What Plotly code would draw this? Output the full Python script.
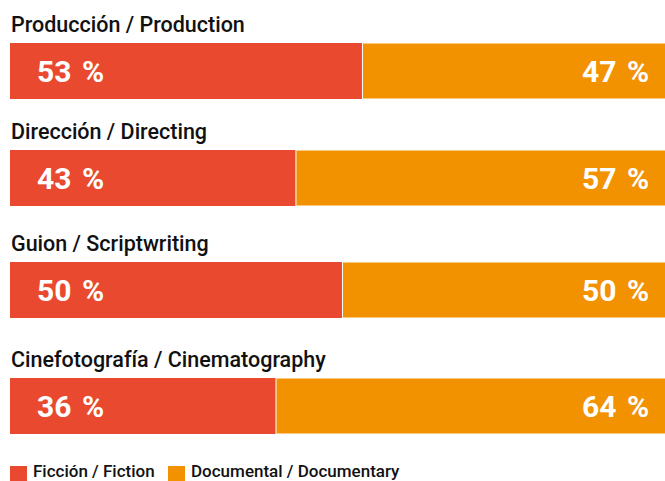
import plotly.graph_objects as go
from plotly.subplots import make_subplots

categories = ["Producción / Production", "Dirección / Directing",
              "Guion / Scriptwriting", "Cinefotografía / Cinematography"]
fiction_share = [53, 43, 50, 40]          # drawn bar lengths
documentary_share = [47, 57, 50, 60]
fiction_labels = [53, 43, 50, 36]         # printed labels
documentary_labels = [47, 57, 50, 64]
series_names = ["Ficción / Fiction", "Documental / Documentary"]

RED = "#E8492F"
ORANGE = "#F39200"
FONT = "Roboto, Noto Sans, sans-serif"

W, H = 665, 481
# bar pixel extents (top, bottom)
bar_px = [(43, 99), (150, 206), (262, 318), (378, 434)]

fig = make_subplots(rows=4, cols=1)
annotations = []
shapes = []
for i, cat in enumerate(categories):
    r = i + 1
    fig.add_trace(go.Bar(y=[cat], x=[fiction_share[i]], orientation="h",
                         marker=dict(color=RED, line=dict(width=0)),
                         name=series_names[0],
                         showlegend=False, hoverinfo="skip", width=1),
                  row=r, col=1)
    fig.add_trace(go.Bar(y=[cat], x=[documentary_share[i]], orientation="h",
                         base=[fiction_share[i]],
                         marker=dict(color=ORANGE, line=dict(width=1, color="white")),
                         name=series_names[1],
                         showlegend=False, hoverinfo="skip", width=1),
                  row=r, col=1)
    top, bot = bar_px[i]
    ax = "" if r == 1 else str(r)
    fig.update_yaxes(domain=[1 - bot / H, 1 - top / H], row=r, col=1)
    # category title
    annotations.append(dict(text=cat, xref="paper", yref="y" + ax + " domain",
                            x=0, y=1, xanchor="left", yanchor="bottom",
                            xshift=-1, yshift=4, showarrow=False,
                            font=dict(family=FONT, size=21.5, weight=500, color="#111111")))
    annotations.append(dict(text=f"<b>{fiction_labels[i]} \u200a%</b>", xref="x" + ax, yref="y" + ax,
                            x=0, y=cat, xanchor="left", yanchor="middle",
                            xshift=25, showarrow=False,
                            font=dict(family=FONT, size=30, color="white")))
    annotations.append(dict(text=f"<b>{documentary_labels[i]} \u200a%</b>", xref="x" + ax + " domain",
                            yref="y" + ax,
                            x=1, y=cat,
                            xanchor="right", yanchor="middle",
                            xshift=-14, showarrow=False,
                            font=dict(family=FONT, size=30, color="white")))

# custom legend (squares + labels) at the bottom
legend_colors = [RED, ORANGE]
legend_offsets = [0, 158]
for name, col, off in zip(series_names, legend_colors, legend_offsets):
    shapes.append(dict(type="rect", xref="paper", yref="paper",
                       xsizemode="pixel", ysizemode="pixel",
                       xanchor=0, yanchor=0, x0=off, x1=off + 17, y0=0, y1=15,
                       fillcolor=col, line=dict(width=0)))
    annotations.append(dict(text=name, xref="paper", yref="paper", x=0, y=0,
                            xanchor="left", yanchor="bottom", xshift=off + 22, yshift=-1,
                            showarrow=False, borderpad=0,
                            font=dict(family=FONT, size=17, weight=500, color="#111111")))

fig.update_xaxes(range=[0, 98.5], visible=False, fixedrange=True)
fig.update_yaxes(visible=False, fixedrange=True)
fig.update_layout(
    barmode="overlay",
    width=W, height=H,
    margin=dict(l=10, r=0, t=0, b=0),
    paper_bgcolor="white", plot_bgcolor="white",
    annotations=annotations,
    shapes=shapes,
    showlegend=False,
)
fig.write_html("out.html", config={"displayModeBar": False},
               post_script="document.body.style.margin='0';")
